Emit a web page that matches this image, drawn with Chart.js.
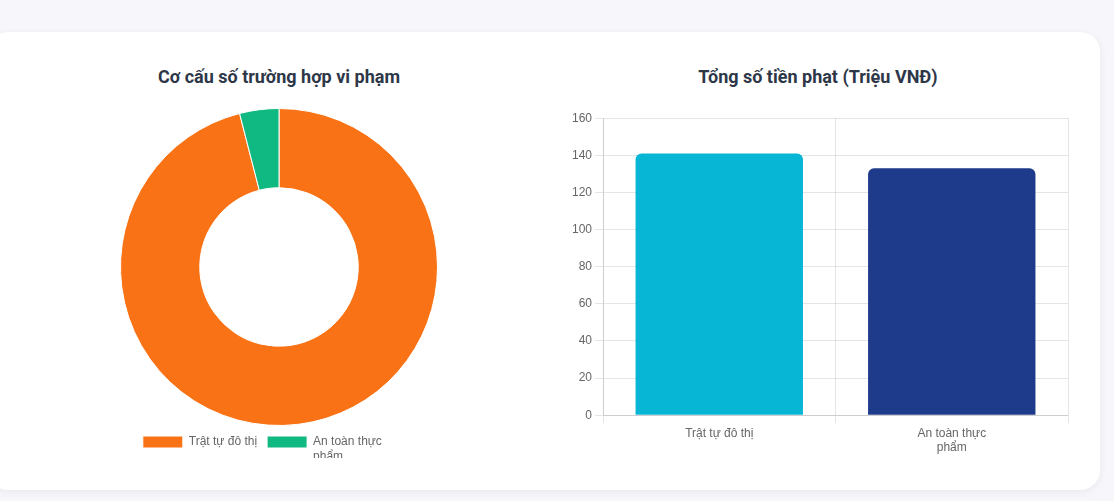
<!DOCTYPE html>
<html lang="vi">
<head>
<meta charset="utf-8">
<title>Thống kê vi phạm</title>
<script src="https://cdn.jsdelivr.net/npm/chart.js@4.4.1/dist/chart.umd.min.js"></script>
<style>
    body {
        margin: 0;
        width: 1114px;
        height: 501px;
        background: #f7f7fb;
        overflow: hidden;
        font-family: Roboto, "Noto Sans", sans-serif;
    }
    .card {
        position: absolute;
        left: -12px;
        top: 32px;
        width: 1112px;
        height: 458px;
        background: #fff;
        border-radius: 20px;
        box-shadow: 0 2px 8px rgba(0, 0, 0, 0.06);
    }
    .panel {
        position: absolute;
        top: 0;
    }
    .panel h3 {
        margin: 0;
        position: absolute;
        top: 34px;
        width: 100%;
        text-align: center;
        font-size: 18px;
        font-weight: 700;
        color: #2d3748;
    }
    .panel .box {
        position: absolute;
        top: 76px;
        height: 350px;
    }
</style>
</head>
<body>
<div class="card">
    <div class="panel" style="left: 32px; width: 518px;">
        <h3>Cơ cấu số trường hợp vi phạm</h3>
        <div class="box" style="left: 0; width: 518px;"><canvas id="donut-violations"></canvas></div>
    </div>
    <div class="panel" style="left: 572px; width: 516px;">
        <h3>Tổng số tiền phạt (Triệu VNĐ)</h3>
        <div class="box" style="left: 9px; width: 507px;"><canvas id="bar-fines"></canvas></div>
    </div>
</div>
<script>
// Categories (multi-line labels like the original)
const categories = [['Trật tự đô thị'], ['An toàn thực', 'phẩm']];
// Number of violation cases per category
const caseCounts = [24, 1];
// Total fines in million VND
const fineTotals = [141, 133];

const donutColors = ['#f97316', '#10b981'];
const barColors = ['#06b6d4', '#1e3a8a'];

window.addEventListener('DOMContentLoaded', () => {
    Chart.defaults.font.family = '"Liberation Sans", Arial, sans-serif';
    Chart.defaults.font.size = 12;
    Chart.defaults.color = '#666';

    // Donut: cases by category
    const donutCtx = document.getElementById('donut-violations').getContext('2d');
    new Chart(donutCtx, {
        type: 'doughnut',
        data: {
            labels: categories,
            datasets: [{
                data: caseCounts,
                backgroundColor: donutColors,
                borderColor: '#fff',
                borderWidth: 1
            }]
        },
        options: {
            responsive: true,
            maintainAspectRatio: false,
            animation: false,
            cutout: '50%',
            plugins: {
                legend: {
                    position: 'bottom',
                    labels: { boxWidth: 40, boxHeight: 12 }
                },
                tooltip: { enabled: false }
            }
        }
    });

    // Bar: fines by category
    const barCtx = document.getElementById('bar-fines').getContext('2d');
    new Chart(barCtx, {
        type: 'bar',
        data: {
            labels: categories,
            datasets: [{
                data: fineTotals,
                backgroundColor: barColors,
                borderRadius: 6,
                borderSkipped: 'start'
            }]
        },
        options: {
            responsive: true,
            maintainAspectRatio: false,
            animation: false,
            layout: { padding: { top: 4, right: 8 } },
            scales: {
                y: {
                    beginAtZero: true,
                    max: 160,
                    ticks: { stepSize: 20 }
                },
                x: {}
            },
            plugins: {
                legend: { display: false },
                tooltip: { enabled: false }
            }
        }
    });
});
</script>
</body>
</html>
